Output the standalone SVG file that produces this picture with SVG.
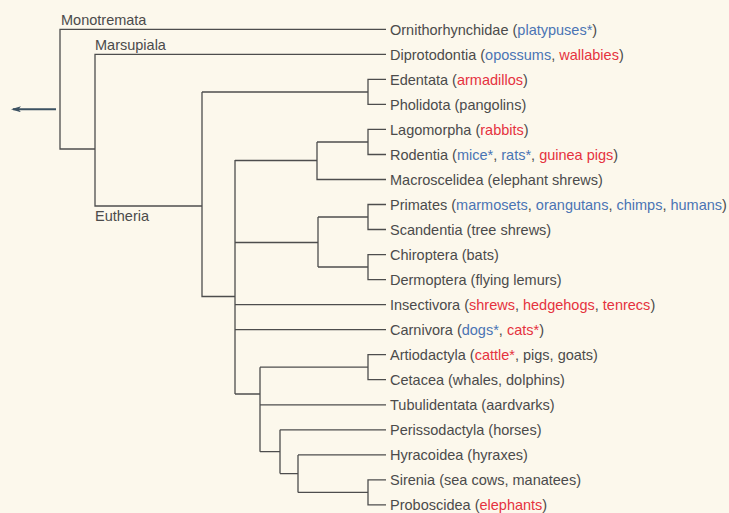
<svg xmlns="http://www.w3.org/2000/svg" width="729" height="513" viewBox="0 0 729 513">
<style>
text{font-family:"Liberation Sans",Arial,sans-serif;font-size:14.5px;fill:#4b4b4b}
.b{fill:#4a74b4}
.r{fill:#e5323e}
#connectors path{fill:none;stroke:#4d4d4d;stroke-width:1.3}
</style>
<defs>
<marker id="ah" viewBox="0 0 10 6" refX="8" refY="3" markerWidth="10" markerHeight="6" orient="auto" markerUnits="userSpaceOnUse">
<path d="M10,3 L0,0 L2.5,3 L0,6 Z" fill="#3c5262"/>
</marker>
</defs>
<rect width="729" height="513" fill="#fcf8ec"/>
<g id="connectors">
<path d="M386,29.3 H60 V149 H95"/>
<path d="M386,54.3 H95 V206 H202"/>
<path d="M202,92 V296.5 H235"/>
<path d="M202,92 H368 M386,79.4 H368 V104.4 H386"/>
<path d="M235,160 V394"/>
<path d="M235,160.5 H317 M317,142 V179.5 H386 M317,142 H368 M386,129.4 H368 V154.5 H386"/>
<path d="M235,242.5 H318 M318,217 V267 M318,217 H368 M386,204.5 H368 V229.5 H386 M318,267 H368 M386,254.6 H368 V279.6 H386"/>
<path d="M235,304.6 H386 M235,329.7 H386"/>
<path d="M235,394 H260 M260,367.2 V451.7 M260,367.2 H368 M386,354.7 H368 V379.7 H386 M260,404.8 H386"/>
<path d="M260,451.7 H280 M280,429.8 V473.6 M280,429.8 H386 M280,473.6 H298 M298,454.9 V492.4 M298,454.9 H386 M298,492.4 H368 M386,479.9 H368 V504.9 H386"/>
<path id="arrow" d="M56,109.3 H13" style="stroke:#3c5262;stroke-width:2" marker-end="url(#ah)"/>
</g>
<g id="clade-monotremata"><text x="61" y="25.3">Monotremata</text></g>
<g id="clade-marsupiala"><text x="95" y="50">Marsupiala</text></g>
<g id="clade-eutheria"><text x="95" y="221.3">Eutheria</text></g>
<g id="leaf-ornithorhynchidae"><text x="390" y="34.5">Ornithorhynchidae (<tspan class="b">platypuses*</tspan>)</text></g>
<g id="leaf-diprotodontia"><text x="390" y="59.5">Diprotodontia (<tspan class="b">opossums</tspan>, <tspan class="r">wallabies</tspan>)</text></g>
<g id="leaf-edentata"><text x="390" y="84.6">Edentata (<tspan class="r">armadillos</tspan>)</text></g>
<g id="leaf-pholidota"><text x="390" y="109.6">Pholidota (pangolins)</text></g>
<g id="leaf-lagomorpha"><text x="390" y="134.6">Lagomorpha (<tspan class="r">rabbits</tspan>)</text></g>
<g id="leaf-rodentia"><text x="390" y="159.7">Rodentia (<tspan class="b">mice*</tspan>, <tspan class="b">rats*</tspan>, <tspan class="r">guinea pigs</tspan>)</text></g>
<g id="leaf-macroscelidea"><text x="390" y="184.7">Macroscelidea (elephant shrews)</text></g>
<g id="leaf-primates"><text x="390" y="209.7">Primates (<tspan class="b">marmosets</tspan>, <tspan class="b">orangutans</tspan>, <tspan class="b">chimps</tspan>, <tspan class="b">humans</tspan>)</text></g>
<g id="leaf-scandentia"><text x="390" y="234.7">Scandentia (tree shrews)</text></g>
<g id="leaf-chiroptera"><text x="390" y="259.8">Chiroptera (bats)</text></g>
<g id="leaf-dermoptera"><text x="390" y="284.8">Dermoptera (flying lemurs)</text></g>
<g id="leaf-insectivora"><text x="390" y="309.8">Insectivora (<tspan class="r">shrews</tspan>, <tspan class="r">hedgehogs</tspan>, <tspan class="r">tenrecs</tspan>)</text></g>
<g id="leaf-carnivora"><text x="390" y="334.9">Carnivora (<tspan class="b">dogs*</tspan>, <tspan class="r">cats*</tspan>)</text></g>
<g id="leaf-artiodactyla"><text x="390" y="359.9">Artiodactyla (<tspan class="r">cattle*</tspan>, pigs, goats)</text></g>
<g id="leaf-cetacea"><text x="390" y="384.9">Cetacea (whales, dolphins)</text></g>
<g id="leaf-tubulidentata"><text x="390" y="410">Tubulidentata (aardvarks)</text></g>
<g id="leaf-perissodactyla"><text x="390" y="435">Perissodactyla (horses)</text></g>
<g id="leaf-hyracoidea"><text x="390" y="460.1">Hyracoidea (hyraxes)</text></g>
<g id="leaf-sirenia"><text x="390" y="485.1">Sirenia (sea cows, manatees)</text></g>
<g id="leaf-proboscidea"><text x="390" y="510.1">Proboscidea (<tspan class="r">elephants</tspan>)</text></g>
</svg>
